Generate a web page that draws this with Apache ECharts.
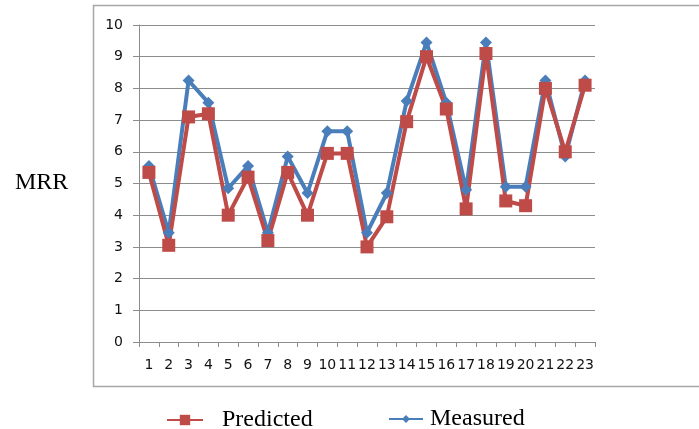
<!DOCTYPE html>
<html>
<head>
<meta charset="utf-8">
<script src="https://cdn.jsdelivr.net/npm/echarts@6/dist/echarts.min.js"></script>
<style>
  html, body { margin: 0; padding: 0; background: #fff; }
  #chart { width: 699px; height: 429px; }
</style>
</head>
<body>
<div id="chart"></div>
<script>
var samples = ['1', '2', '3', '4', '5', '6', '7', '8', '9', '10', '11', '12',
  '13', '14', '15', '16', '17', '18', '19', '20', '21', '22', '23']
var predicted = [5.35, 3.05, 7.1, 7.2, 4.0, 5.2, 3.2, 5.35, 4.0, 5.95, 5.95, 3.0,
  3.95, 6.95, 9.0, 7.35, 4.2, 9.1, 4.45, 4.3, 8.0, 6.0, 8.1]
var measured = [5.55, 3.45, 8.25, 7.55, 4.85, 5.55, 3.45, 5.85, 4.7, 6.65, 6.65, 3.45,
  4.7, 7.6, 9.45, 7.55, 4.8, 9.45, 4.9, 4.9, 8.25, 5.85, 8.25]

var red = '#be4b48'
var blue = '#4a7ebb'
var tickFont = { color: '#111', fontSize: 14, fontFamily: 'DejaVu Sans' }
var serif = 'Liberation Serif'

var chart = echarts.init(document.getElementById('chart'))
chart.setOption({
  animation: false,
  backgroundColor: '#fff',
  graphic: [{
    type: 'rect',
    shape: { x: 93.5, y: 5.5, width: 610, height: 381 },
    style: { fill: 'none', stroke: '#a6a6a6', lineWidth: 1.5 },
    z: -10
  }, {
    type: 'text',
    left: 15,
    top: 171,
    style: { text: 'MRR', font: '24px "Liberation Serif"', fill: '#000' }
  }],
  grid: { left: 139, right: 104, top: 25, bottom: 87 },
  legend: [{
    data: ['Predicted'],
    left: 161,
    top: 403,
    itemWidth: 36,
    itemHeight: 13,
    textStyle: { fontFamily: serif, fontSize: 24, color: '#000', padding: [0, 0, 0, 14] }
  }, {
    data: ['Measured'],
    left: 383,
    top: 402,
    itemWidth: 34,
    itemHeight: 10,
    textStyle: { fontFamily: serif, fontSize: 24, color: '#000', padding: [0, 0, 0, 2] }
  }],
  xAxis: {
    type: 'category',
    data: samples,
    boundaryGap: true,
    axisLine: { lineStyle: { color: '#8c8c8c', width: 1 } },
    axisTick: { show: true, length: 5, lineStyle: { color: '#8c8c8c' } },
    axisLabel: Object.assign({ interval: 0, margin: 16 }, tickFont)
  },
  yAxis: {
    type: 'value',
    min: 0,
    max: 10,
    interval: 1,
    axisLine: { show: true, lineStyle: { color: '#8c8c8c', width: 1 } },
    axisTick: { show: true, length: 6, lineStyle: { color: '#8c8c8c' } },
    axisLabel: Object.assign({ margin: 16 }, tickFont),
    splitLine: { lineStyle: { color: '#8c8c8c', width: 1 } }
  },
  series: [{
    name: 'Measured',
    type: 'line',
    data: measured,
    symbol: 'diamond',
    symbolSize: 12,
    color: blue,
    lineStyle: { width: 4, color: blue },
    itemStyle: { color: blue }
  }, {
    name: 'Predicted',
    type: 'line',
    data: predicted,
    symbol: 'rect',
    symbolSize: 13,
    color: red,
    lineStyle: { width: 4, color: red },
    itemStyle: { color: red }
  }]
})
</script>
</body>
</html>
